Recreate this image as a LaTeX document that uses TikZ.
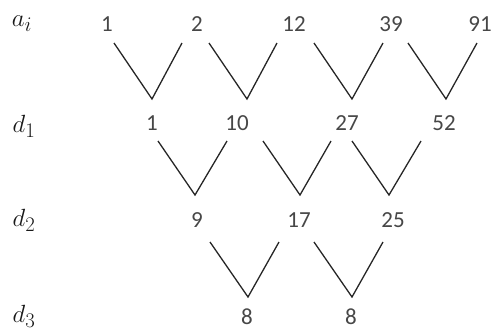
\documentclass[tikz,border=0pt]{standalone}
\usepackage{fontspec}
\setmainfont{Carlito}
\begin{document}
\begin{tikzpicture}[x=1pt,y=-1pt,
  num/.style={inner sep=0pt,text=black!72,font=\fontsize{23}{25}\selectfont},
  lab/.style={inner sep=0pt,text=black!90,font=\fontsize{30}{32}\selectfont},
  vee/.style={line width=1.3pt,draw=black!85,line join=miter}]
\useasboundingbox (0,0) rectangle (493,333);
% labels
\node[lab] (la) at (22,24) {$a_i$};
\node[lab] (l1) at (24,126) {$d_1$};
\node[lab] (l2) at (24,220) {$d_2$};
\node[lab] (l3) at (24,316) {$d_3$};
% row a
\node[num] (a1) at (107,24) {1};
\node[num] (a2) at (197,24) {2};
\node[num] (a3) at (294,24) {12};
\node[num] (a4) at (391,24) {39};
\node[num] (a5) at (480,24) {91};
% row d1
\node[num] (b1) at (152,123) {1};
\node[num] (b2) at (237,123) {10};
\node[num] (b3) at (347,123) {27};
\node[num] (b4) at (444,123) {52};
% row d2
\node[num] (c1) at (197,220) {9};
\node[num] (c2) at (299,220) {17};
\node[num] (c3) at (393,220) {25};
% row d3
\node[num] (e1) at (247,317) {8};
\node[num] (e2) at (351,317) {8};
% vee corners
\coordinate (p1l) at (114,43); \coordinate (p1b) at (152,99); \coordinate (p1r) at (182,43);
\coordinate (p2l) at (209,43); \coordinate (p2b) at (247,99); \coordinate (p2r) at (277,43);
\coordinate (p3l) at (314,43); \coordinate (p3b) at (352,99); \coordinate (p3r) at (383,43);
\coordinate (p4l) at (408,43); \coordinate (p4b) at (446,99); \coordinate (p4r) at (477,43);
\coordinate (q1l) at (158,141); \coordinate (q1b) at (195,195); \coordinate (q1r) at (227,141);
\coordinate (q2l) at (263,141); \coordinate (q2b) at (300,195); \coordinate (q2r) at (331,141);
\coordinate (q3l) at (352,141); \coordinate (q3b) at (389,195); \coordinate (q3r) at (421,141);
\coordinate (r1l) at (210,242); \coordinate (r1b) at (248,297); \coordinate (r1r) at (279,242);
\coordinate (r2l) at (314,242); \coordinate (r2b) at (352,297); \coordinate (r2r) at (383,242);
\foreach \v in {p1,p2,p3,p4,q1,q2,q3,r1,r2}
  \draw[vee] (\v l) -- (\v b) -- (\v r);
\end{tikzpicture}
\end{document}
